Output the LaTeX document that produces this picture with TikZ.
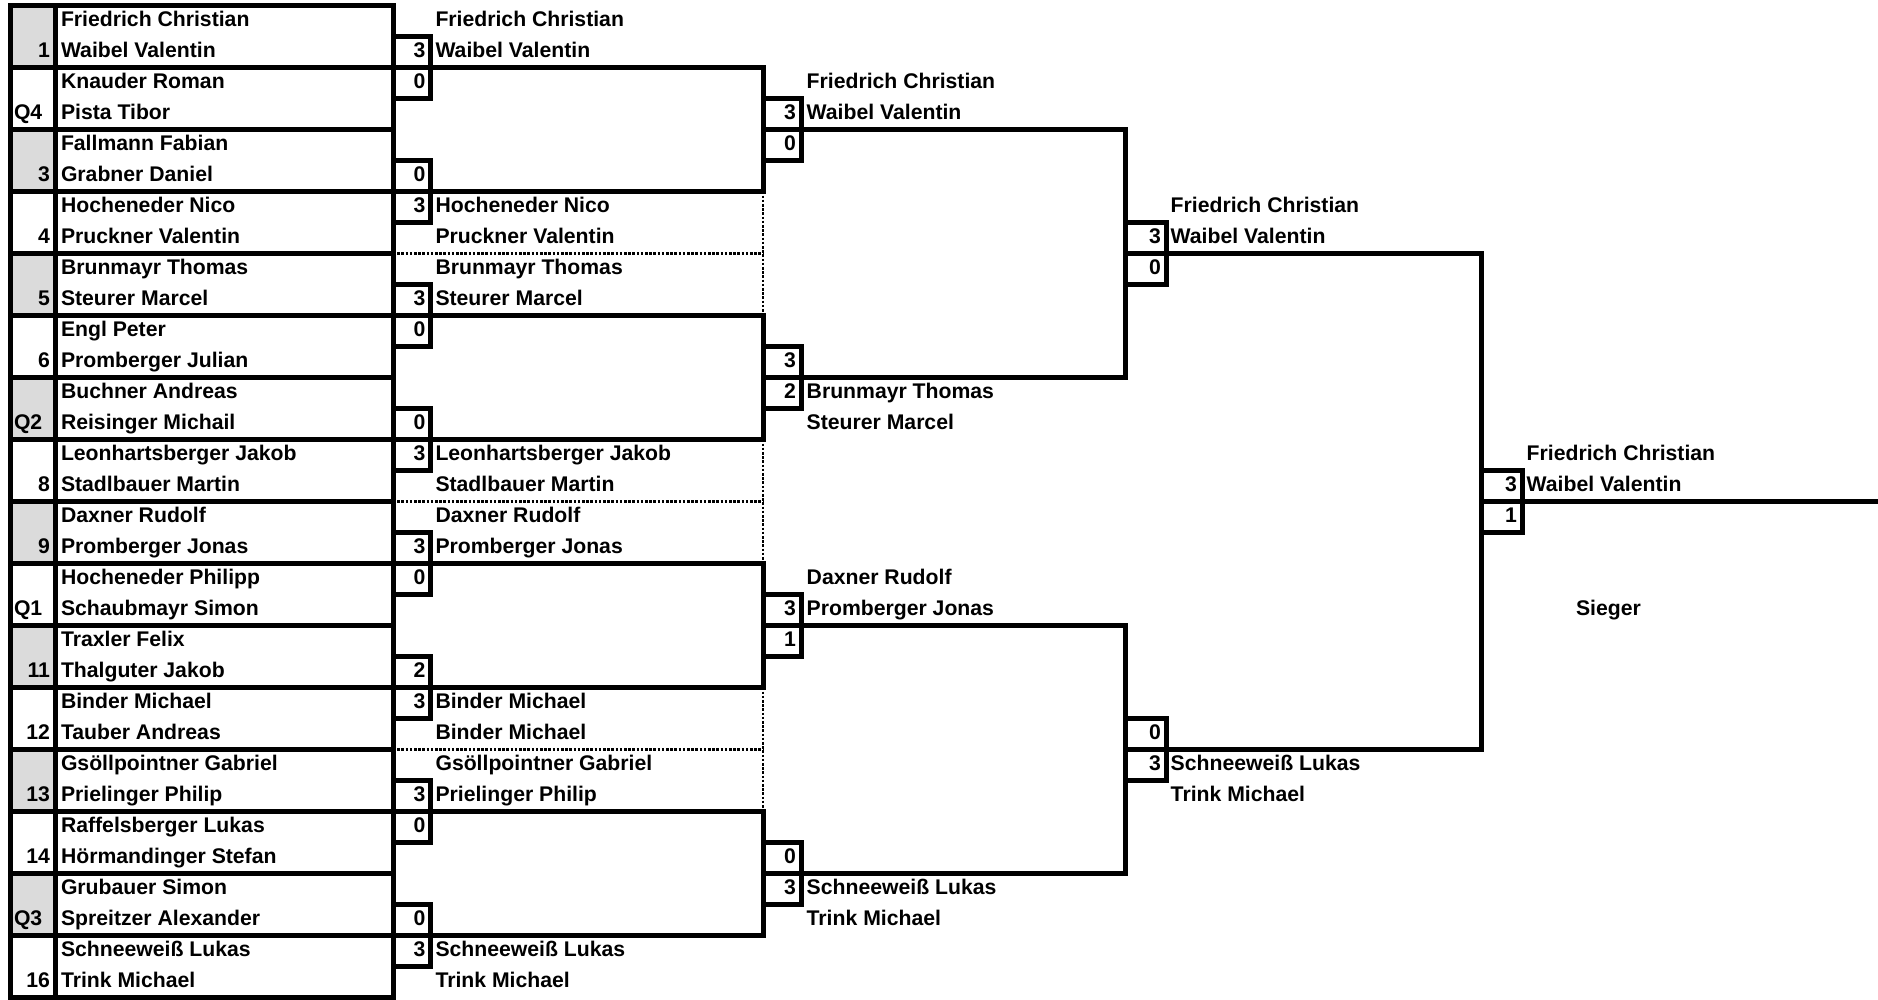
\documentclass[tikz,border=0pt]{standalone}
\usepackage{fontspec}
\setmainfont{Liberation Sans}
\usepackage{tikz}

\begin{document}
\begin{tikzpicture}[x=1pt,y=-31pt,
  every node/.style={font=\fontsize{21.2}{25}\selectfont\bfseries,inner sep=0pt,outer sep=0pt},
  thickline/.style={line width=5pt},
  cellborder/.style={line width=2.6pt,dash pattern=on 2.6pt off 1.6pt},
  player/.style={anchor=base west},
  seedno/.style={anchor=base east},
  seedq/.style={anchor=base west},
  score/.style={draw,line width=5pt,anchor=north west,inner xsep=5pt,inner ysep=0pt,
    text height=21.5pt,text depth=9.5pt,align=right,text width=#1},
  score/.default=27.5pt]
  \useasboundingbox (0pt,5.3pt) rectangle (1878pt,-993.7pt);
  % shaded seed cells
  \foreach \i in {0,2,...,14}
    \fill[black!14] (10.8,2*\i) rectangle (55.8,2*\i+2);
  % dotted cell borders between the quarter brackets
  \foreach \k in {6,14,22}
    \draw[cellborder] (393,\k+2) -- (763,\k+2) (763,\k) -- (763,\k+4);
  % entry boxes
  \foreach \i in {0,...,15}
    \draw[thickline] (10.8,2*\i) rectangle (393,2*\i+2) (55.8,2*\i) -- (55.8,2*\i+2);
  \foreach \k/\top/\bot in {1/Friedrich Christian/Waibel Valentin,2/Knauder Roman/Pista Tibor,
      3/Fallmann Fabian/Grabner Daniel,4/Hocheneder Nico/Pruckner Valentin,
      5/Brunmayr Thomas/Steurer Marcel,6/Engl Peter/Promberger Julian,
      7/Buchner Andreas/Reisinger Michail,8/Leonhartsberger Jakob/Stadlbauer Martin,
      9/Daxner Rudolf/Promberger Jonas,10/Hocheneder Philipp/Schaubmayr Simon,
      11/Traxler Felix/Thalguter Jakob,12/Binder Michael/Tauber Andreas,
      13/Gsöllpointner Gabriel/Prielinger Philip,14/Raffelsberger Lukas/Hörmandinger Stefan,
      15/Grubauer Simon/Spreitzer Alexander,16/Schneeweiß Lukas/Trink Michael} {
    \node[player] (e\k a) at (61,2*\k-1.306) {\top};
    \node[player] (e\k b) at (61,2*\k-0.306) {\bot};
  }
  \foreach \k in {1,3,4,5,6,8,9,11,12,13,14,16}
    \node[seedno] (sd\k) at (50,2*\k-0.306) {\k};
  \foreach \k/\lab in {2/Q4,7/Q2,10/Q1,15/Q3}
    \node[seedq] (sd\k) at (14,2*\k-0.306) {\lab};
  % winners carried to the right
  \foreach \x/\c/\r/\top/\bot [evaluate=\r as \rr using int(\r+1)] in
     {435.5/2/1/Friedrich Christian/Waibel Valentin,435.5/2/7/Hocheneder Nico/Pruckner Valentin,
      435.5/2/9/Brunmayr Thomas/Steurer Marcel,435.5/2/15/Leonhartsberger Jakob/Stadlbauer Martin,
      435.5/2/17/Daxner Rudolf/Promberger Jonas,435.5/2/23/Binder Michael/Binder Michael,
      435.5/2/25/Gsöllpointner Gabriel/Prielinger Philip,435.5/2/31/Schneeweiß Lukas/Trink Michael,
      806.7/3/3/Friedrich Christian/Waibel Valentin,806.7/3/13/Brunmayr Thomas/Steurer Marcel,
      806.7/3/19/Daxner Rudolf/Promberger Jonas,806.7/3/29/Schneeweiß Lukas/Trink Michael,
      1170.7/4/7/Friedrich Christian/Waibel Valentin,1170.7/4/25/Schneeweiß Lukas/Trink Michael,
      1526.7/5/15/Friedrich Christian/Waibel Valentin} {
    \node[player] (c\c-\r) at (\x,\r-0.306) {\top};
    \node[player] (c\c-\rr) at (\x,\rr-0.306) {\bot};
  }
  \node[player] (sieger) at (1576,19.694) {Sieger};
  % score boxes
  \foreach \m/\a/\b in {0/3/0,1/0/3,2/3/0,3/0/3,4/3/0,5/2/3,6/3/0,7/0/3} {
    \node[score] (s1a\m) at (393,4*\m+1) {\a};
    \node[score] (s1b\m) at (393,4*\m+2) {\b};
  }
  \foreach \k/\a/\b in {0/3/0,1/3/2,2/3/1,3/0/3} {
    \node[score=28pt] (s2a\k) at (763,8*\k+3) {\a};
    \node[score=28pt] (s2b\k) at (763,8*\k+4) {\b};
  }
  \foreach \k/\a/\b in {0/3/0,1/0/3} {
    \node[score=31pt] (s3a\k) at (1125,16*\k+7) {\a};
    \node[score=31pt] (s3b\k) at (1125,16*\k+8) {\b};
  }
  \node[score=31pt] (s4a) at (1481,15) {3};
  \node[score=31pt] (s4b) at (1481,16) {1};
  % bracket lines
  \foreach \k [evaluate=\k as \u using int(2*\k), evaluate=\k as \v using int(2*\k+1)] in {0,...,3}
    \draw[thickline] (s1b\u.north east) -| (s2a\k.north west) (s2b\k.south west) |- (s1b\v.north east);
  \foreach \k [evaluate=\k as \u using int(2*\k), evaluate=\k as \v using int(2*\k+1)] in {0,1}
    \draw[thickline] (s2b\u.north east) -| (s3a\k.north west) (s3b\k.south west) |- (s2b\v.north east);
  \draw[thickline] (s3b0.north east) -| (s4a.north west) (s4b.south west) |- (s3b1.north east);
  \coordinate (out) at (1878,16);
  \draw[thickline] (s4b.north east) -- (out);
\end{tikzpicture}
\end{document}
